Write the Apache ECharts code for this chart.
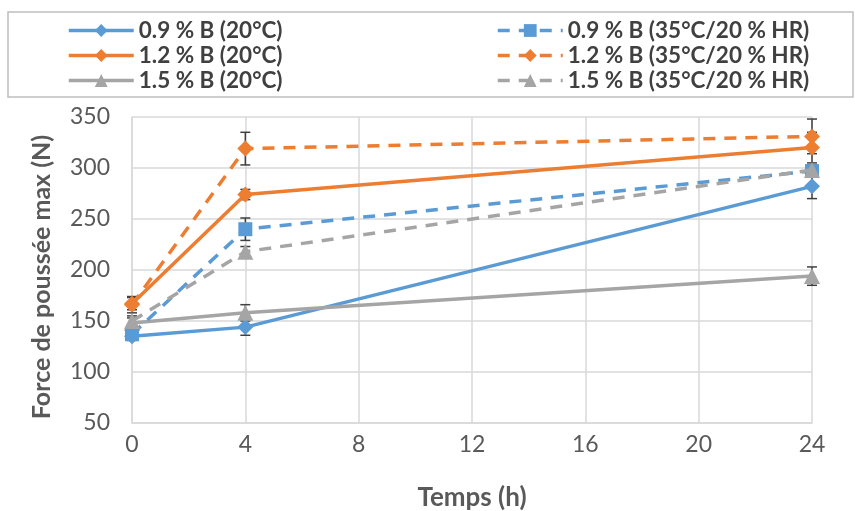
<!DOCTYPE html>
<html><head><meta charset="utf-8">
<script src="https://cdn.jsdelivr.net/npm/echarts@6/dist/echarts.min.js"></script>
<style>html,body{margin:0;padding:0;background:#fff}#c{width:855px;height:511px}</style>
</head><body><div id="c"></div>
<script>
const times = [0, 4, 24];
const xTicks = [0, 4, 8, 12, 16, 20, 24];
const names = ['0.9 % B (20°C)', '1.2 % B (20°C)', '1.5 % B (20°C)',
  '0.9 % B (35°C/20 % HR)', '1.2 % B (35°C/20 % HR)', '1.5 % B (35°C/20 % HR)'];
const b09_20 = [135, 144, 282];
const b12_20 = [167, 274, 320];
const b15_20 = [148, 158, 194];
const b09_35 = [137, 240, 297];
const b12_35 = [166, 319, 331];
const b15_35 = [150, 218, 298];
const e09_20 = [4, 8, 12];
const e12_20 = [6, 5, 15];
const e15_20 = [5, 8, 9];
const e09_35 = [4, 11, 5];
const e12_35 = [8, 16, 17];
const e15_35 = [5, 5, 5];

const values = [b09_20, b12_20, b15_20, b09_35, b12_35, b15_35];
const errs = [e09_20, e12_20, e15_20, e09_35, e12_35, e15_35];
const colors = ['#5B9BD5', '#ED7D31', '#A5A5A5', '#5B9BD5', '#ED7D31', '#A5A5A5'];
const symbols = ['diamond', 'diamond', 'triangle', 'rect', 'diamond', 'triangle'];
const dashed = [false, false, false, true, true, true];

const series = [];
values.forEach((v, i) => {
  series.push({
    name: names[i], type: 'line',
    data: times.map((t, k) => [t, v[k]]),
    symbol: symbols[i], symbolSize: symbols[i] === 'rect' ? 14 : 16,
    lineStyle: { color: colors[i], width: 3.5, type: dashed[i] ? [12, 9] : 'solid' },
    itemStyle: { color: colors[i] },
    z: 3 + i, animation: false
  });
});
const errData = [];
values.forEach((v, i) => times.forEach((t, k) => errData.push([t, v[k] - errs[i][k], v[k] + errs[i][k]])));
series.push({
  type: 'custom', name: 'err', z: 2, animation: false, silent: true,
  data: errData,
  renderItem: function (params, api) {
    const x = api.value(0);
    const lo = api.coord([x, api.value(1)]);
    const hi = api.coord([x, api.value(2)]);
    const w = 5;
    const st = { stroke: '#404040', lineWidth: 1.5 };
    return { type: 'group', children: [
      { type: 'line', shape: { x1: lo[0], y1: lo[1], x2: hi[0], y2: hi[1] }, style: st },
      { type: 'line', shape: { x1: lo[0] - w, y1: lo[1], x2: lo[0] + w, y2: lo[1] }, style: st },
      { type: 'line', shape: { x1: hi[0] - w, y1: hi[1], x2: hi[0] + w, y2: hi[1] }, style: st }
    ] };
  }
});

const font = 'Lato, "Open Sans", sans-serif';
const legendBase = {
  orient: 'vertical', itemWidth: 65, itemHeight: 16, itemGap: 2, top: 14,
  lineStyle: { width: 3.5 },
  textStyle: { fontFamily: font, fontSize: 22.5, lineHeight: 21, fontWeight: 'bold', color: '#404040' },
  selectedMode: false
};
const chart = echarts.init(document.getElementById('c'));
chart.setOption({
  animation: false,
  graphic: [
    { type: 'rect', shape: { x: 8, y: 12, width: 845, height: 85 }, style: { fill: 'none', stroke: '#BFBFBF', lineWidth: 1.5 }, z: -1 },
    { type: 'text', x: 42, y: 277, rotation: Math.PI / 2,
      style: { text: 'Force de poussée max (N)', font: 'bold 25px ' + font, fill: '#595959', align: 'center', verticalAlign: 'middle' } }
  ],
  legend: [
    Object.assign({}, legendBase, { left: 62, data: names.slice(0, 3) }),
    Object.assign({}, legendBase, { left: 491, data: names.slice(3) })
  ],
  grid: { left: 132, right: 43, top: 117, bottom: 88, outerBoundsMode: 'none', containLabel: false },
  xAxis: {
    type: 'value', min: 0, max: 24, interval: 4,
    name: 'Temps (h)', nameLocation: 'middle', nameGap: 62,
    nameTextStyle: { fontFamily: font, fontSize: 26, fontWeight: 'bold', color: '#595959' },
    axisLine: { lineStyle: { color: '#D9D9D9', width: 1.5 } },
    axisTick: { show: false },
    axisLabel: { fontFamily: font, fontSize: 23, color: '#595959', margin: 10,
      formatter: v => xTicks.includes(v) ? String(v) : '' },
    splitLine: { lineStyle: { color: '#D9D9D9', width: 1.5 } }
  },
  yAxis: {
    type: 'value', min: 50, max: 350, interval: 50,
    axisLine: { show: true, lineStyle: { color: '#D9D9D9', width: 1.5 } },
    axisTick: { show: false },
    axisLabel: { fontFamily: font, fontSize: 23, color: '#595959', margin: 22 },
    splitLine: { lineStyle: { color: '#D9D9D9', width: 1.5 } }
  },
  series: series
});
</script></body></html>
